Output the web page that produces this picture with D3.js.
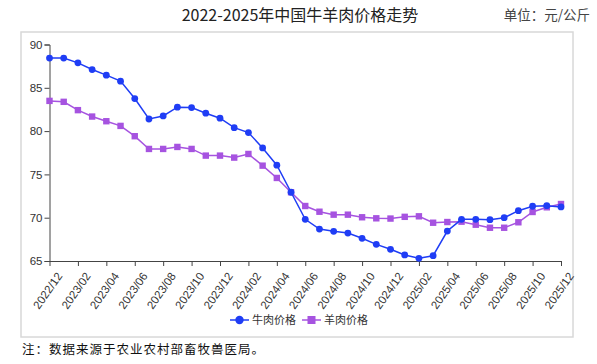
<!DOCTYPE html>
<meta charset="utf-8">
<title>2022-2025年中国牛羊肉价格走势</title>
<style>
    body {
        margin: 0;
        font-family: "Noto Sans CJK SC", "Noto Sans", sans-serif;
        background: #fff;
    }
</style>
<body>
<script src="https://cdn.jsdelivr.net/npm/d3@7"></script>
<script>

    // months, 2022/12 .. 2025/12
    var months = [
        "2022/12", "2023/01", "2023/02", "2023/03", "2023/04", "2023/05", "2023/06",
        "2023/07", "2023/08", "2023/09", "2023/10", "2023/11", "2023/12",
        "2024/01", "2024/02", "2024/03", "2024/04", "2024/05", "2024/06",
        "2024/07", "2024/08", "2024/09", "2024/10", "2024/11", "2024/12",
        "2025/01", "2025/02", "2025/03", "2025/04", "2025/05", "2025/06",
        "2025/07", "2025/08", "2025/09", "2025/10", "2025/11", "2025/12"
    ];

    var beef = [
        88.43, 88.43, 87.88, 87.11, 86.46, 85.77, 83.76,
        81.40, 81.75, 82.76, 82.72, 82.07, 81.49,
        80.40, 79.83, 78.06, 76.06, 72.94, 69.81,
        68.69, 68.43, 68.23, 67.62, 66.92, 66.35,
        65.70, 65.31, 65.61, 68.46, 69.81, 69.81,
        69.77, 70.00, 70.81, 71.32, 71.39, 71.24
    ];

    var mutton = [
        83.49, 83.38, 82.42, 81.68, 81.14, 80.60, 79.41,
        77.94, 77.94, 78.17, 77.94, 77.17, 77.17,
        76.94, 77.36, 76.01, 74.59, 72.94, 71.35,
        70.69, 70.35, 70.35, 70.05, 69.93, 69.90,
        70.10, 70.16, 69.42, 69.50, 69.54, 69.19,
        68.84, 68.84, 69.47, 70.66, 71.20, 71.58
    ];

    var yTicks = [65, 70, 75, 80, 85, 90];
    var seriesNames = ["牛肉价格", "羊肉价格"];

    var width = 597,
        height = 364;

    var svg = d3.select("body").append("svg")
        .attr("width", width)
        .attr("height", height);

    // title + unit
    svg.append("text")
        .attr("x", 300).attr("y", 21)
        .attr("text-anchor", "middle")
        .style("font-size", "16px")
        .style("fill", "#222")
        .text("2022-2025年中国牛羊肉价格走势");

    svg.append("text")
        .attr("x", 590).attr("y", 20)
        .attr("text-anchor", "end")
        .style("font-size", "13.5px")
        .style("fill", "#444")
        .text("单位：元/公斤");

    // chart frame
    svg.append("rect")
        .attr("x", 21).attr("y", 32)
        .attr("width", 552).attr("height", 305)
        .style("fill", "none")
        .style("stroke", "#d8d8d8")
        .style("stroke-width", 1.5);

    var x = d3.scaleLinear()
        .domain([0, months.length - 1])
        .range([49.5, 561]);

    var y = d3.scaleLinear()
        .domain([65, 90])
        .range([261, 44.5]);

    var yAxis = d3.axisLeft(y)
        .tickValues(yTicks)
        .tickSize(5)
        .tickPadding(2);

    var gy = svg.append("g")
        .attr("transform", "translate(49.5,0)")
        .call(yAxis);
    gy.selectAll("text").style("font-size", "11.5px").style("fill", "#333");
    gy.selectAll("line, path").style("stroke", "#444");

    var xAxis = d3.axisBottom(x)
        .tickValues(d3.range(0, months.length, 2))
        .tickFormat(function (i) { return months[i]; })
        .tickSize(5)
        .tickSizeOuter(0);

    var gx = svg.append("g")
        .attr("transform", "translate(0,261)")
        .call(xAxis);
    gx.selectAll("line, path").style("stroke", "#444");
    gx.selectAll("text")
        .style("font-size", "11.5px")
        .style("fill", "#333")
        .attr("text-anchor", "end")
        .attr("dy", "0.35em")
        .attr("transform", "translate(3,8) rotate(-55)");

    var line = d3.line()
        .x(function (d, i) { return x(i); })
        .y(function (d) { return y(d); });

    var blue = "#1f3df5",
        purple = "#a653e0";

    // mutton first so beef sits on top
    svg.append("path")
        .datum(mutton)
        .attr("d", line)
        .style("fill", "none")
        .style("stroke", purple)
        .style("stroke-width", 1.5);

    svg.selectAll("rect.mut")
        .data(mutton)
        .enter().append("rect")
        .attr("class", "mut")
        .attr("x", function (d, i) { return x(i) - 3.2; })
        .attr("y", function (d) { return y(d) - 3.2; })
        .attr("width", 6.4).attr("height", 6.4)
        .style("fill", purple);

    svg.append("path")
        .datum(beef)
        .attr("d", line)
        .style("fill", "none")
        .style("stroke", blue)
        .style("stroke-width", 1.5);

    svg.selectAll("circle.beef")
        .data(beef)
        .enter().append("circle")
        .attr("class", "beef")
        .attr("cx", function (d, i) { return x(i); })
        .attr("cy", function (d) { return y(d); })
        .attr("r", 3.4)
        .style("fill", blue);

    // legend
    var legend = svg.append("g").attr("transform", "translate(230,320)");
    var colors = [blue, purple];
    seriesNames.forEach(function (name, k) {
        var g = legend.append("g").attr("transform", "translate(" + (k * 72) + ",0)");
        g.append("line")
            .attr("x1", 0).attr("x2", 19)
            .style("stroke", colors[k]).style("stroke-width", 1.5);
        if (k === 0) {
            g.append("circle").attr("cx", 9.5).attr("cy", 0).attr("r", 4.2).style("fill", colors[k]);
        } else {
            g.append("rect").attr("x", 5.5).attr("y", -4).attr("width", 8).attr("height", 8).style("fill", colors[k]);
        }
        g.append("text")
            .attr("x", 22).attr("y", 0)
            .attr("dy", "0.35em")
            .style("font-size", "11px")
            .style("fill", "#333")
            .text(name);
    });

    // note
    svg.append("text")
        .attr("x", 22).attr("y", 354)
        .style("font-size", "12.5px")
        .style("letter-spacing", "1px")
        .style("fill", "#111")
        .text("注：数据来源于农业农村部畜牧兽医局。");

</script>
</body>
